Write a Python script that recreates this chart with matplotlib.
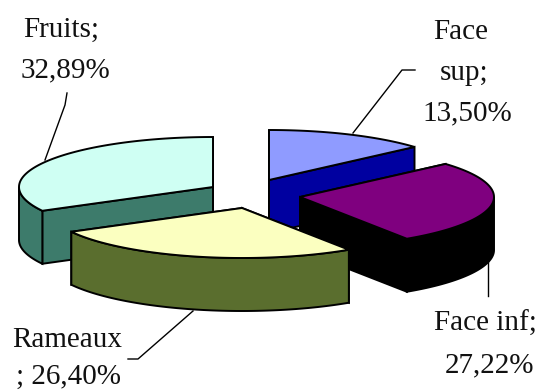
import numpy as np
import matplotlib
matplotlib.use("Agg")
import matplotlib.pyplot as plt
from matplotlib.patches import Polygon

categories = ["Face sup", "Face inf", "Rameaux", "Fruits"]
values = [13.50, 27.22, 26.40, 32.89]
top_colors = ["#8F9BFF", "#7F007F", "#FBFFC0", "#CFFFF3"]
side_colors = ["#0000A0", "#000000", "#5A6E2E", "#3D7B6B"]
apexes = [(269, 180), (300, 197), (242, 208), (213, 187)]

RX, RY, DEPTH = 194, 50, 53
W, H = 542, 391

fig = plt.figure(figsize=(W / 100, H / 100), dpi=100, facecolor="white")
ax = fig.add_axes([0, 0, 1, 1])
ax.set_xlim(0, W)
ax.set_ylim(H, 0)
ax.axis("off")


def rim(apex, a0, a1):
    t = np.radians(np.linspace(a0, a1, 100))
    return np.column_stack([apex[0] + RX * np.sin(t), apex[1] - RY * np.cos(t)])


def wall(points, color, z):
    bottom = points[::-1] + [0, DEPTH]
    ax.add_patch(Polygon(np.vstack([points, bottom]), closed=True, fc=color,
                         ec="black", lw=1.4, zorder=z))


total = sum(values)
angles = np.concatenate([[0], np.cumsum(values) / total * 360])
order = [3, 0, 1, 2]
for n, i in enumerate(order):
    a0, a1 = angles[i], angles[i + 1]
    apex = np.array(apexes[i], float)
    arc = rim(apex, a0, a1)
    z = 2 + n
    wall(np.vstack([apex, arc[0]]), side_colors[i], z)
    wall(np.vstack([apex, arc[-1]]), side_colors[i], z)
    lo, hi = max(a0, 90), min(a1, 270)
    if hi > lo:
        wall(rim(apex, lo, hi), side_colors[i], z)
    ax.add_patch(Polygon(np.vstack([apex, arc]), closed=True, fc=top_colors[i],
                         ec="black", lw=1.4, zorder=z))

font = dict(family="Liberation Serif", fontsize=21, color="#111111", ha="center",
            va="baseline", zorder=20)
ax.text(61, 37, "Fruits;", **font)
ax.text(65, 77, "32,89%", **font)
ax.text(461, 39, "Face", **font)
ax.text(464, 80, "sup;", **font)
ax.text(467, 120, "13,50%", **font)
ax.text(485, 331, "Face inf;", **font)
ax.text(490, 372, "27,22%", **font)
ax.text(67, 347, "Rameaux", **font)
ax.text(69, 384, "; 26,40%", **font)

leaders = [
    ([67, 65, 45], [93, 105, 160]),
    ([415, 402, 353], [70, 70, 133]),
    ([488, 488], [261, 296]),
    ([128, 138, 193], [359, 359, 311]),
]
for xs, ys in leaders:
    ax.plot(xs, ys, color="black", lw=1.0, zorder=15)

fig.savefig("out.png", dpi=100)
